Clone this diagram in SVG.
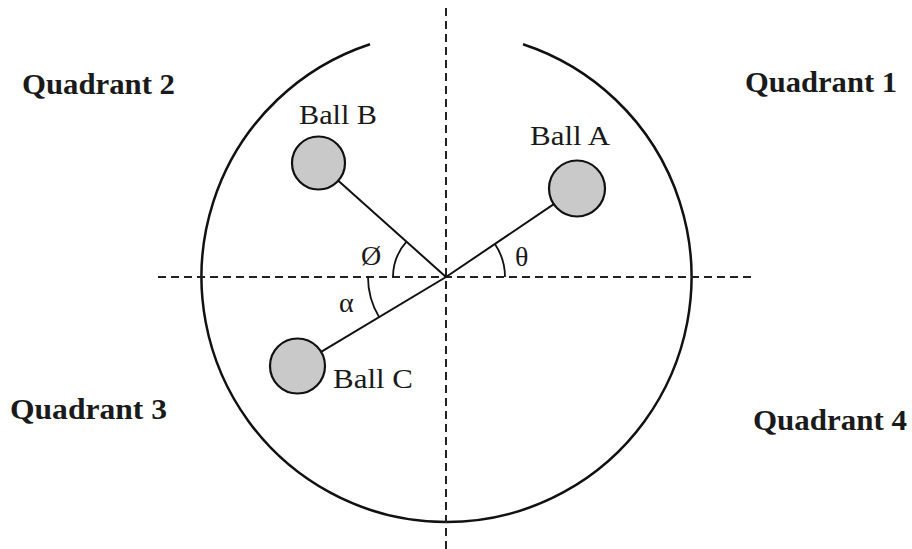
<svg xmlns="http://www.w3.org/2000/svg" width="912" height="549" viewBox="0 0 912 549">
<style>
.axis{stroke:#222;stroke-width:2;stroke-dasharray:8 5;fill:none}
.rim{stroke:#111;stroke-width:2.5;fill:none}
.rod{stroke:#111;stroke-width:2;fill:none}
.ang{stroke:#111;stroke-width:1.8;fill:none}
.ball{fill:#c9c9c9;stroke:#111;stroke-width:2.2}
.q{font-family:"Liberation Serif","Times New Roman",serif;font-weight:bold;font-size:30px;fill:#1a1a1a}
.lbl{font-family:"Liberation Serif","Times New Roman",serif;font-size:28px;fill:#1a1a1a}
.sym{font-family:"Liberation Serif","Times New Roman",serif;font-size:28px;fill:#1a1a1a}
</style>
<rect width="912" height="549" fill="#fff"/>
<g id="frame">
<path class="rim" d="M 370 44.25 A 245 245 0 1 0 523 44.25"/>
</g>
<g id="connectors">
<line class="axis" x1="446" y1="8" x2="446" y2="549"/>
<line class="axis" x1="158" y1="277" x2="752" y2="277"/>
<line class="rod" x1="446" y1="277" x2="338.3" y2="180.7"/>
<line class="rod" x1="446" y1="277" x2="553.8" y2="204.2"/>
<line class="rod" x1="446" y1="277" x2="321.1" y2="351.9"/>
<path class="ang" d="M 505 277 A 59 59 0 0 0 494.9 244"/>
<path class="ang" d="M 393 277 A 53 53 0 0 1 406.5 241.7"/>
<path class="ang" d="M 368 277 A 78 78 0 0 0 379.1 317.1"/>
</g>
<g id="ballA">
<circle class="ball" cx="577" cy="188.5" r="28"/>
<text class="lbl" x="530" y="145" textLength="80" lengthAdjust="spacingAndGlyphs">Ball A</text>
</g>
<g id="ballB">
<circle class="ball" cx="318.5" cy="163" r="26.5"/>
<text class="lbl" x="299" y="124" textLength="78" lengthAdjust="spacingAndGlyphs">Ball B</text>
</g>
<g id="ballC">
<circle class="ball" cx="297.5" cy="366" r="27.5"/>
<text class="lbl" x="333" y="388" textLength="80" lengthAdjust="spacingAndGlyphs">Ball C</text>
</g>
<g id="angles">
<text class="sym" x="361" y="265">Ø</text>
<text class="sym" x="515" y="266">θ</text>
<text class="sym" x="339" y="312">α</text>
</g>
<g id="quadrants">
<text class="q" x="22" y="94" textLength="153" lengthAdjust="spacingAndGlyphs">Quadrant 2</text>
<text class="q" x="745" y="92" textLength="152" lengthAdjust="spacingAndGlyphs">Quadrant 1</text>
<text class="q" x="10" y="419" textLength="157" lengthAdjust="spacingAndGlyphs">Quadrant 3</text>
<text class="q" x="753" y="430" textLength="154" lengthAdjust="spacingAndGlyphs">Quadrant 4</text>
</g>
</svg>
